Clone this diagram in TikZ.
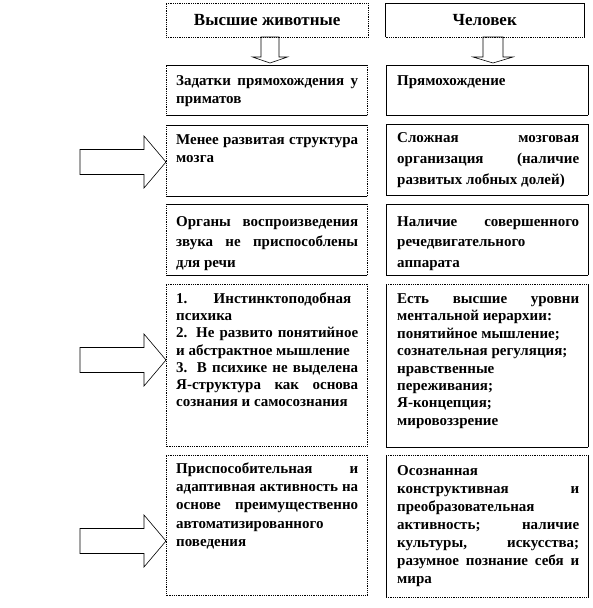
\documentclass[tikz,border=0pt]{standalone}
\usepackage{fontspec}
\setmainfont{Liberation Serif}
\usetikzlibrary{calc}
\newcommand\boxsides[5]{%
  \draw[#2] (#1.north west) -- (#1.north east);
  \draw[#3] (#1.north east) -- (#1.south east);
  \draw[#4] (#1.south east) -- (#1.south west);
  \draw[#5] (#1.south west) -- (#1.north west);}
\begin{document}
\begin{tikzpicture}[x=1pt,y=-1pt,
  sol/.style={line width=0.8pt},
  dot/.style={line width=0.8pt, densely dotted},
  cell/.style={draw=none, inner sep=0pt, anchor=north west},
  txt/.style={font=\bfseries\fontsize{15}{#1}\selectfont, text width=182pt, align=justify, anchor=base west, inner sep=0pt, execute at begin node=\parindent0pt},
  txt/.default=18,
  head/.style={font=\bfseries\fontsize{17}{20}\selectfont},
  blk/.style={draw, line width=0.6pt, fill=white}]
\useasboundingbox (0,0) rectangle (592,608);

% boxes
\node[cell, head, minimum width=202pt, minimum height=34pt] (hl) at (166,3) {Высшие животные};
\node[cell, head, minimum width=199pt, minimum height=34pt] (hr) at (385,3) {Человек};
\node[cell, minimum width=201pt, minimum height=50pt] (l1) at (166,65) {};
\node[cell, minimum width=202pt, minimum height=50pt] (r1) at (386,65) {};
\node[cell, minimum width=201pt, minimum height=71pt] (l2) at (166,125) {};
\node[cell, minimum width=202pt, minimum height=71pt] (r2) at (386,124) {};
\node[cell, minimum width=201pt, minimum height=71pt] (l3) at (166,204) {};
\node[cell, minimum width=202pt, minimum height=71pt] (r3) at (386,204) {};
\node[cell, minimum width=201pt, minimum height=162pt] (l4) at (166,284) {};
\node[cell, minimum width=202pt, minimum height=163pt] (r4) at (386,284) {};
\node[cell, minimum width=201pt, minimum height=140pt] (l5) at (166,455) {};
\node[cell, minimum width=202pt, minimum height=142pt] (r5) at (386,455) {};

% down block arrows
\coordinate (d1) at ($(l1.north west)+(104,-2)$);
\draw[blk] (d1) -- ++(-17.5,-6) -- ++(8.5,0) -- ++(0,-20) -- ++(18,0) -- ++(0,20) -- ++(8.5,0) -- cycle;
\coordinate (d2) at ($(r1.north west)+(107,-2)$);
\draw[blk] (d2) -- ++(-20,-6) -- ++(10,0) -- ++(0,-20) -- ++(20,0) -- ++(0,20) -- ++(10,0) -- cycle;

% right block arrows
\coordinate (t1) at ($(l2.north west)+(0,37)$);
\coordinate (t2) at ($(l4.north west)+(0,76)$);
\coordinate (t3) at ($(l5.north west)+(0,86)$);
\foreach \t in {t1,t2,t3}{
  \draw[blk] (\t) -- ++(-22,-26) -- ++(0,13.5) -- ++(-64,0) -- ++(0,25) -- ++(64,0) -- ++(0,13.5) -- cycle;}

% box borders
\boxsides{hl}{dot}{dot}{dot}{dot}
\boxsides{hr}{sol}{sol}{dot}{sol}
\boxsides{l1}{sol}{dot}{sol}{dot}
\boxsides{l2}{sol}{dot}{sol}{dot}
\boxsides{l3}{sol}{dot}{sol}{dot}
\boxsides{l4}{dot}{dot}{dot}{dot}
\boxsides{l5}{dot}{dot}{dot}{dot}
\boxsides{r1}{sol}{sol}{sol}{sol}
\boxsides{r2}{sol}{sol}{sol}{sol}
\boxsides{r3}{sol}{sol}{sol}{sol}
\boxsides{r4}{dot}{sol}{sol}{sol}
\boxsides{r5}{dot}{sol}{dot}{sol}

% texts
\node[txt=18] (l1t) at ($(l1.north west)+(10,20.5)$) {Задатки прямохождения у\linebreak приматов};
\node[txt=18] (r1t) at ($(r1.north west)+(11,20.5)$) {Прямохождение};
\node[txt=18] (l2t) at ($(l2.north west)+(10,19.5)$) {Менее развитая структура\linebreak мозга};
\node[txt=21] (r2t) at ($(r2.north west)+(11,18.5)$) {Сложная мозговая\linebreak организация (наличие\linebreak развитых лобных долей)};
\node[txt=20.5] (l3t) at ($(l3.north west)+(10,22)$) {Органы воспроизведения\linebreak звука не приспособлены\linebreak для речи};
\node[txt=20.5] (r3t) at ($(r3.north west)+(11,22)$) {Наличие совершенного\linebreak речедвигательного\par аппарата};
\node[txt=17.2] (l4t) at ($(l4.north west)+(10,19.5)$) {1.~~~~~~~Инстинктоподобная\par психика\par 2. Не развито понятийное\linebreak и абстрактное мышление\par 3. В психике не выделена\linebreak Я-структура как основа\linebreak сознания и самосознания};
\node[txt=17.4] (r4t) at ($(r4.north west)+(11,19.5)$) {Есть высшие уровни\linebreak ментальной иерархии:\par понятийное мышление;\par сознательная регуляция;\par нравственные\par переживания;\par Я-концепция;\par мировоззрение};
\node[txt=18.2] (l5t) at ($(l5.north west)+(10,18.5)$) {Приспособительная и\linebreak адаптивная активность на\linebreak основе преимущественно\linebreak автоматизированного\par поведения};
\node[txt=18] (r5t) at ($(r5.north west)+(11,20)$) {Осознанная\par конструктивная и\linebreak преобразовательная\par активность; наличие\linebreak культуры, искусства;\linebreak разумное познание себя и\linebreak мира};
\end{tikzpicture}
\end{document}
